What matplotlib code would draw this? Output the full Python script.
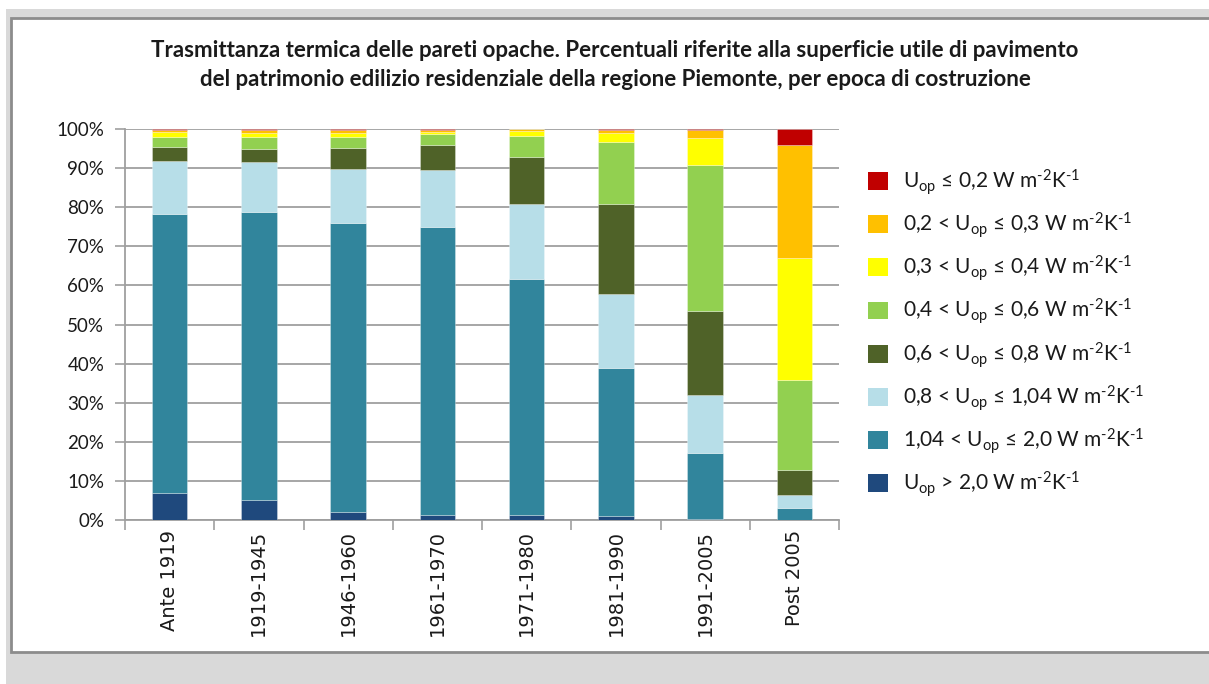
import matplotlib
matplotlib.use("Agg")
import matplotlib.pyplot as plt
from matplotlib.patches import Rectangle, Patch
import numpy as np

plt.rcParams['mathtext.default'] = 'regular'
plt.rcParams['font.family'] = ['Lato', 'DejaVu Sans']

categories = ["Ante 1919", "1919-1945", "1946-1960", "1961-1970",
              "1971-1980", "1981-1990", "1991-2005", "Post 2005"]

# series from bottom to top (percent)
u_gt_20   = [7.0, 5.2, 2.0, 1.4, 1.2, 1.1, 0.3, 0.0]
u_104_20  = [71.2, 73.5, 73.9, 73.5, 60.5, 37.7, 16.9, 3.0]
u_08_104  = [13.7, 12.8, 13.9, 14.7, 19.1, 19.1, 14.7, 3.4]
u_06_08   = [3.6, 3.5, 5.3, 6.3, 12.1, 23.0, 21.6, 6.3]
u_04_06   = [2.5, 3.0, 2.9, 2.7, 5.4, 15.9, 37.3, 23.1]
u_03_04   = [1.2, 1.1, 1.0, 0.7, 1.2, 2.3, 7.0, 31.3]
u_02_03   = [0.5, 0.7, 0.8, 0.4, 0.4, 0.6, 2.0, 28.7]
u_le_02   = [0.3, 0.2, 0.2, 0.3, 0.1, 0.3, 0.2, 4.2]

series = [u_gt_20, u_104_20, u_08_104, u_06_08, u_04_06, u_03_04, u_02_03, u_le_02]
labels = [
    r"U$_{op}$ > 2,0 W m$^{‐2}$K$^{‐1}$",
    r"1,04 < U$_{op}$ ≤ 2,0 W m$^{‐2}$K$^{‐1}$",
    r"0,8 < U$_{op}$ ≤ 1,04 W m$^{‐2}$K$^{‐1}$",
    r"0,6 < U$_{op}$ ≤ 0,8 W m$^{‐2}$K$^{‐1}$",
    r"0,4 < U$_{op}$ ≤ 0,6 W m$^{‐2}$K$^{‐1}$",
    r"0,3 < U$_{op}$ ≤ 0,4 W m$^{‐2}$K$^{‐1}$",
    r"0,2 < U$_{op}$ ≤ 0,3 W m$^{‐2}$K$^{‐1}$",
    r"U$_{op}$ ≤ 0,2 W m$^{‐2}$K$^{‐1}$",
]
colors = ["#1F497D", "#31859C", "#B7DEE8", "#4F6228",
          "#92D050", "#FFFF00", "#FFC000", "#C00000"]

title = ("Trasmittanza termica delle pareti opache. Percentuali riferite alla superficie utile di pavimento\n"
         "del patrimonio edilizio residenziale della regione Piemonte, per epoca di costruzione")

W, H = 1209, 684
fig = plt.figure(figsize=(W / 100, H / 100), dpi=100)
fig.patch.set_facecolor("white")

# gray page background and white chart box
fig.patches.append(Rectangle((6 / W, 0), 1, 1 - 9 / H, transform=fig.transFigure,
                             facecolor="#d9d9d9", edgecolor="none", zorder=-10))
fig.patches.append(Rectangle((11 / W, 1 - 652 / H), 1.2, (652 - 18) / H, transform=fig.transFigure,
                             facecolor="white", edgecolor="#8c8c8c", linewidth=2, zorder=-9))

ax = fig.add_axes([125 / W, 1 - 520 / H, (839 - 125) / W, (520 - 129) / H])
ax.set_facecolor("none")

x = np.arange(len(categories))
bottom = np.zeros(len(categories))
handles = []
for vals, lab, col in zip(series, labels, colors):
    vals = np.array(vals)
    ax.bar(x, vals, 0.4, bottom=bottom, color=col, edgecolor=(1, 1, 1, 0.35),
           linewidth=0.6, label=lab, zorder=3)
    handles.append(Patch(facecolor=col, edgecolor="none", label=lab))
    bottom += vals

ax.set_xlim(-0.5, len(categories) - 0.5)
ax.set_ylim(0, 100)
ax.set_yticks(np.arange(0, 101, 10))
ax.set_yticklabels([f"{v}%" for v in range(0, 101, 10)], fontsize=13.5, color="#1a1a1a")
ax.yaxis.grid(True, color="#9f9f9f", linewidth=1.3, zorder=0)
ax.set_axisbelow(True)

ax.set_xticks(x)
ax.set_xticklabels(categories, rotation=90, fontsize=14, family="DejaVu Sans", color="#1a1a1a")
ax.tick_params(axis="x", which="major", length=0, pad=7)
ax.set_xticks(np.arange(-0.5, len(categories), 1), minor=True)
ax.tick_params(axis="x", which="minor", length=7, width=1.2, color="#9f9f9f", direction="out")
ax.tick_params(axis="y", length=7, width=1.2, color="#9f9f9f", direction="out", pad=8)

for s in ["top", "right"]:
    ax.spines[s].set_visible(False)
for s in ["left", "bottom"]:
    ax.spines[s].set_color("#9f9f9f")
    ax.spines[s].set_linewidth(1.3)

fig.text(615 / W, 1 - 65 / H, title, ha="center", va="center", fontsize=16,
         fontweight="bold", color="#1a1a1a", linespacing=1.45)

leg = fig.legend(handles=handles[::-1], loc="upper left",
                 bbox_to_anchor=(860 / W, 1 - 159 / H), frameon=False,
                 fontsize=15, handlelength=0.95, handleheight=0.95,
                 labelspacing=0.645, handletextpad=0.7, borderaxespad=0)
for t in leg.get_texts():
    t.set_color("#1a1a1a")

fig.savefig("out.png", dpi=100, facecolor=fig.get_facecolor())
